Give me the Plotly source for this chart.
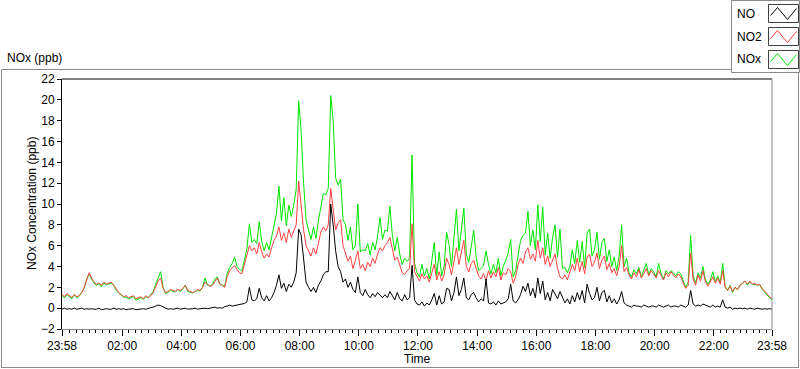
import plotly.graph_objects as go
from datetime import datetime, timedelta

# ---------------- data (5-minute samples from 23:58 to 23:58 next day) ----------------
NO2 = [
    1.3, 1.1, 1.4, 1.2, 1.0, 1.3, 1.1, 1.2, 1.5, 2.0, 2.8, 3.4,
    2.9, 2.5, 2.3, 2.4, 2.2, 2.5, 2.3, 2.4, 2.5, 2.2, 1.8, 1.5,
    1.3, 1.1, 1.2, 1.0, 1.1, 1.2, 0.9, 1.0, 1.1, 0.9, 1.2, 1.0,
    1.2, 1.5, 2.1, 2.6, 2.9, 1.9, 1.5, 1.6, 1.8, 1.7, 1.6, 1.8,
    1.7, 1.9, 2.2, 1.7, 1.6, 1.5, 1.6, 1.8, 1.7, 2.0, 2.5, 2.3,
    2.1, 2.2, 2.6, 2.9, 2.3, 2.2, 2.0, 3.0, 3.6, 3.9, 4.1, 3.7,
    3.4, 3.3, 4.3, 5.0, 6.0, 5.5, 5.8, 5.2, 6.3, 5.4, 4.8, 5.2,
    4.9, 5.8, 6.5, 6.9, 7.8, 6.5, 7.2, 6.3, 7.6, 6.8, 7.4, 8.0,
    12.2, 9.5, 7.5, 6.0, 5.5, 5.0, 5.8, 5.2, 6.2, 7.3, 7.8, 7.4,
    8.0, 11.5, 9.5, 7.5, 8.2, 8.5, 6.0, 5.2, 4.5, 5.0, 3.8, 4.6,
    5.5, 3.8, 4.2, 3.6, 4.4, 4.0, 4.8, 4.3, 5.2, 5.8, 5.5, 6.0,
    6.3, 6.8, 5.5, 4.6, 4.9, 4.2, 3.4, 3.2, 3.6, 3.8, 8.1, 3.5,
    3.0, 2.6, 3.3, 2.8, 3.1, 2.5, 3.4, 4.2, 2.7, 3.5, 2.6, 3.2,
    4.8, 4.2, 3.2, 4.5, 5.8, 4.2, 5.5, 6.5, 4.0, 3.5, 4.3, 4.6,
    3.8, 3.1, 2.8, 3.3, 2.6, 3.6, 2.9, 3.5, 3.0, 3.9, 2.7, 3.4,
    3.2, 3.8, 3.5, 2.4, 3.0, 4.2, 4.8, 4.3, 5.4, 5.8, 4.7, 5.2,
    4.5, 6.5, 4.8, 5.8, 4.2, 5.0, 4.0, 4.6, 5.2, 3.8, 3.0, 2.8,
    3.2, 2.7, 3.4, 4.2, 3.6, 4.8, 3.5, 4.5, 3.3, 4.9, 5.2, 4.0,
    4.4, 5.3, 3.8, 4.6, 5.0, 3.7, 4.3, 3.4, 3.8, 3.1, 4.0, 6.0,
    3.5, 3.9, 3.2, 2.8, 3.4, 3.0, 3.7, 2.9, 3.3, 3.8, 3.1, 3.6,
    3.3, 2.9, 3.6, 3.1, 2.7, 3.4, 3.0, 3.5, 3.2, 2.9, 3.3, 3.0,
    2.4, 1.9, 2.2, 5.3, 2.8, 2.2, 3.2, 2.6, 3.6, 2.5, 2.1, 2.6,
    3.0, 2.4, 2.9, 2.3, 3.6, 2.0, 1.7, 2.1, 1.6, 2.0, 1.8, 2.2,
    2.4, 2.6, 2.3, 2.6, 2.3, 2.4, 2.2, 2.3, 1.9, 1.6, 1.4, 1.1,
    0.9,
]

NO = [
    -0.1, 0.0, -0.1, -0.05, -0.1, 0.0, -0.1, -0.05, 0.0, -0.1, -0.05, -0.1,
    -0.05, -0.1, -0.1, 0.0, -0.15, -0.1, -0.05, -0.1, -0.1, 0.0, -0.1, -0.05,
    -0.1, -0.05, -0.15, -0.1, -0.1, -0.05, -0.15, -0.1, -0.1, -0.05, -0.1, 0.0,
    0.05, 0.1, 0.2, 0.3, 0.25, 0.1, 0.0, -0.1, -0.05, -0.1, -0.05, 0.0,
    -0.1, -0.05, 0.0, -0.1, -0.1, -0.05, 0.0, -0.1, -0.05, 0.0, 0.0, -0.05,
    0.0, 0.05, 0.1, 0.0, 0.05, 0.0, 0.15, 0.2, 0.3, 0.2, 0.25, 0.3,
    0.3, 0.35, 0.45, 0.6, 2.0, 0.8, 0.7, 0.9, 1.9, 1.0, 0.7, 1.2,
    0.7, 1.0, 1.5, 2.2, 3.2, 1.9, 2.4, 1.6, 2.3, 2.0, 2.5, 3.4,
    7.6, 7.0, 4.5, 2.5, 2.0, 1.6, 2.0, 1.5, 2.2, 2.6, 3.2, 3.5,
    3.5, 10.0, 8.0, 5.5, 4.0, 3.5, 2.5, 2.8, 2.0, 2.5, 1.8, 1.5,
    3.0, 1.5, 1.2, 1.8, 1.3, 1.0, 1.4, 1.1, 1.5, 1.2, 1.0, 1.3,
    1.0, 1.6, 1.2, 0.8, 1.5, 0.9, 0.7, 1.3, 0.8, 1.0, 4.1, 0.8,
    0.4, 0.3, 0.6, 0.2, 0.5, 0.3, 0.8, 1.4, 0.3, 1.2, 0.4, 0.6,
    1.9, 1.8, 0.7, 1.5, 3.0, 1.2, 1.8, 2.9, 1.0, 0.8, 1.3, 1.5,
    1.0, 0.6, 0.9, 0.7, 2.8, 0.5, 0.4, 0.6, 0.3, 0.7, 0.4, 0.5,
    0.6, 0.9, 2.3, 0.7, 0.5, 0.8, 1.3, 2.1, 1.6, 2.4, 1.2, 1.9,
    1.0, 2.9, 1.4, 2.6, 0.8, 1.5, 0.7, 1.8, 1.3, 0.9, 1.6, 1.1,
    0.5, 0.9, 0.4, 1.2, 0.6, 1.5, 0.8, 1.7, 0.5, 2.3, 1.4, 0.8,
    1.0, 2.0, 0.7, 1.5, 1.7, 0.6, 1.2, 0.5, 0.9, 0.4, 0.8, 1.6,
    0.5, 0.3, 0.2, 0.1, 0.3, 0.2, 0.2, 0.1, 0.3, 0.2, 0.1, 0.2,
    0.2, 0.1, 0.3, 0.2, 0.1, 0.2, 0.3, 0.1, 0.2, 0.2, 0.1, 0.3,
    0.2, 0.1, 0.3, 1.7, 0.4, 0.2, 0.3, 0.2, 0.4, 0.3, 0.2, 0.1,
    0.3, 0.1, 0.2, 0.1, 0.8, 0.1, 0.0, 0.1, -0.1, 0.0, -0.05, 0.0,
    -0.05, 0.0, -0.1, 0.0, -0.05, -0.1, 0.0, -0.05, -0.1, -0.05, -0.1, -0.05,
    -0.1,
]

NOX = [
    1.2, 1.0, 1.3, 1.1, 0.9, 1.3, 1.0, 1.15, 1.5, 1.9, 2.8, 3.3,
    2.8, 2.4, 2.2, 2.35, 2.05, 2.4, 2.25, 2.3, 2.4, 2.2, 1.7, 1.45,
    1.2, 1.05, 1.05, 0.9, 1.0, 1.15, 0.75, 0.9, 1.0, 0.85, 1.1, 1.0,
    1.25, 1.6, 2.3, 3.0, 3.5, 2.0, 1.4, 1.5, 1.7, 1.6, 1.55, 1.8,
    1.6, 1.85, 2.2, 1.6, 1.5, 1.45, 1.6, 1.7, 1.65, 2.0, 2.9, 2.2,
    2.1, 2.25, 2.8, 3.0, 2.35, 2.2, 2.1, 3.3, 3.9, 4.3, 4.9, 4.0,
    3.7, 3.6, 4.8, 5.7, 8.1, 6.3, 6.6, 6.2, 8.3, 6.4, 5.5, 6.3,
    5.6, 6.8, 8.0, 9.1, 11.7, 8.4, 10.6, 7.9, 9.9, 8.8, 9.9, 11.4,
    19.9, 17.0, 12.0, 8.5, 7.5, 6.6, 7.8, 6.7, 8.4, 9.9, 11.0, 10.9,
    11.5, 20.4, 18.0, 12.5, 11.8, 12.4, 8.5, 8.0, 6.5, 7.8, 5.6, 6.0,
    10.0, 5.4, 5.6, 5.5, 6.2, 5.1, 6.3, 5.6, 6.9, 8.7, 6.6, 7.5,
    7.4, 9.8, 7.0, 5.5, 6.8, 5.2, 4.2, 4.8, 4.5, 4.8, 14.7, 4.3,
    3.4, 3.0, 4.2, 3.1, 3.8, 2.8, 4.4, 6.3, 3.1, 5.4, 3.1, 4.0,
    7.3, 6.1, 4.0, 6.4, 9.5, 5.5, 7.4, 9.6, 5.2, 4.4, 5.9, 7.5,
    4.9, 3.6, 3.8, 4.1, 5.5, 4.2, 3.3, 4.2, 3.4, 4.8, 3.1, 4.0,
    4.6, 5.3, 6.6, 3.0, 3.6, 5.2, 6.5, 7.0, 7.2, 9.3, 6.0, 7.5,
    5.6, 9.9, 6.4, 9.7, 5.1, 7.2, 4.8, 6.8, 8.0, 4.9, 7.6, 3.8,
    3.9, 3.4, 4.0, 5.6, 4.3, 6.5, 4.4, 6.4, 3.9, 7.2, 7.6, 5.0,
    5.6, 7.3, 4.7, 6.3, 6.7, 4.5, 5.6, 4.0, 4.9, 3.6, 5.0, 8.0,
    4.0, 4.8, 3.4, 3.0, 3.7, 3.3, 3.9, 3.0, 3.6, 4.3, 3.2, 3.8,
    3.5, 3.0, 4.3, 3.3, 2.8, 3.6, 3.3, 3.6, 3.4, 3.1, 3.5, 3.3,
    2.6, 2.0, 2.5, 7.0, 3.1, 2.4, 3.4, 2.9, 4.0, 2.7, 2.3, 2.7,
    3.5, 2.5, 3.1, 2.4, 4.3, 2.1, 1.7, 2.2, 1.5, 2.0, 1.75, 2.2,
    2.35, 2.6, 2.2, 2.55, 2.25, 2.3, 2.2, 2.25, 1.8, 1.5, 1.3, 1.0,
    0.8,
]

TICK_LABELS = ["23:58", "02:00", "04:00", "06:00", "08:00", "10:00", "12:00",
               "14:00", "16:00", "18:00", "20:00", "22:00", "23:58"]
SERIES_NAMES = ["NO", "NO2", "NOx"]
SERIES_COLORS = ["#000000", "#ff4040", "#00e600"]

# ---------------- time axis ----------------
START = datetime(2024, 1, 1, 23, 58)
END = START + timedelta(hours=24)
STEP = timedelta(minutes=5)

def times_for(vals):
    return [START + STEP * i for i in range(len(vals))]

major_vals = [START] + [datetime(2024, 1, 2, h) for h in range(2, 23, 2)] + [END]
base = datetime(2024, 1, 2, 0, 0)
minor_vals = []
for k in range(-2, 120):
    t = base + timedelta(seconds=800 * k)
    if START < t < END and all(abs((t - m).total_seconds()) > 180 for m in major_vals):
        minor_vals.append(t)

# ---------------- figure ----------------
W, H = 800, 369
L, R, T, B = 62, 28, 79, 40
PW, PH = W - L - R, H - T - B

def px(x):
    return (x - L) / PW

def py(y):
    return (H - B - y) / PH

FONT = "Liberation Sans, Arial, sans-serif"

fig = go.Figure()
fig.add_trace(go.Scatter(x=times_for(NOX), y=NOX, mode="lines", name=SERIES_NAMES[2],
                         line=dict(color=SERIES_COLORS[2], width=1), showlegend=False))
fig.add_trace(go.Scatter(x=times_for(NO2), y=NO2, mode="lines", name=SERIES_NAMES[1],
                         line=dict(color=SERIES_COLORS[1], width=1), showlegend=False))
fig.add_trace(go.Scatter(x=times_for(NO), y=NO, mode="lines", name=SERIES_NAMES[0],
                         line=dict(color=SERIES_COLORS[0], width=1), showlegend=False))

shapes = []
# outer panel frame
shapes.append(dict(type="rect", xref="paper", yref="paper", x0=px(1.5), x1=px(798.5),
                   y0=py(367.5), y1=py(69.5), line=dict(color="#8a8a8a", width=1), layer="below"))
# plot frame: top black, right gray
shapes.append(dict(type="line", xref="paper", yref="paper", x0=0, x1=1, y0=1, y1=1,
                   line=dict(color="#000000", width=1)))
shapes.append(dict(type="line", xref="paper", yref="paper", x0=1, x1=1, y0=0, y1=1,
                   line=dict(color="#8a8a8a", width=1)))
# legend box
shapes.append(dict(type="rect", xref="paper", yref="paper", x0=px(731.5), x1=px(799.5),
                   y0=py(72.5), y1=py(0.5), line=dict(color="#8a8a8a", width=1),
                   fillcolor="#ffffff", layer="above"))
annotations = []
for k, (name, col) in enumerate(zip(SERIES_NAMES, SERIES_COLORS)):
    y0 = 4.5 + 23 * k
    x0 = 768.5
    shapes.append(dict(type="rect", xref="paper", yref="paper", x0=px(x0), x1=px(x0 + 30),
                       y0=py(y0 + 18), y1=py(y0), line=dict(color="#404040", width=1),
                       fillcolor="#ffffff", layer="above"))
    pts = [(2, 11), (9, 3), (19, 15), (28, 4)]
    path = "M " + " L ".join(f"{px(x0 + a):.5f},{py(y0 + b):.5f}" for a, b in pts)
    shapes.append(dict(type="path", xref="paper", yref="paper", path=path,
                       line=dict(color=col, width=1), layer="above"))
    annotations.append(dict(xref="paper", yref="paper", x=px(735), y=py(y0 + 9), text=name,
                            showarrow=False, xanchor="left", yanchor="middle",
                            font=dict(family=FONT, size=12, color="#000000")))

annotations.append(dict(xref="paper", yref="paper", x=px(5), y=py(58), text="NOx (ppb)",
                        showarrow=False, xanchor="left", yanchor="middle",
                        font=dict(family=FONT, size=12, color="#000000")))
annotations.append(dict(xref="paper", yref="paper", x=px(32), y=py(204),
                        text="NOx Concentration (ppb)", textangle=-90, showarrow=False,
                        xanchor="center", yanchor="middle",
                        font=dict(family=FONT, size=12, color="#000000")))
annotations.append(dict(xref="paper", yref="paper", x=px(417), y=py(359), text="Time",
                        showarrow=False, xanchor="center", yanchor="middle",
                        font=dict(family=FONT, size=12, color="#000000")))

fig.update_layout(
    width=W, height=H,
    margin=dict(l=L, r=R, t=T, b=B, pad=0),
    paper_bgcolor="#ffffff", plot_bgcolor="#ffffff",
    font=dict(family=FONT, size=12, color="#000000"),
    shapes=shapes, annotations=annotations,
    showlegend=False,
)
fig.update_xaxes(
    type="date", range=[START, END],
    tickmode="array", tickvals=major_vals, ticktext=TICK_LABELS,
    ticks="outside", ticklen=6, tickwidth=1, tickcolor="#000000",
    showline=True, linecolor="#8a8a8a", linewidth=1, mirror=False,
    showgrid=False, zeroline=False,
    tickfont=dict(family=FONT, size=12, color="#000000"),
    minor=dict(tickmode="array", tickvals=minor_vals, ticks="outside", ticklen=3,
               tickcolor="#000000", showgrid=False),
)
fig.update_yaxes(
    range=[-2, 22], tickmode="linear", tick0=-2, dtick=2,
    ticks="outside", ticklen=4, tickwidth=1, tickcolor="#000000",
    showline=True, linecolor="#000000", linewidth=1,
    showgrid=False, zeroline=False,
    tickfont=dict(family=FONT, size=12, color="#000000"),
)

fig.write_html(
    "out.html",
    config={"displayModeBar": False},
    post_script="document.body.style.margin='0px';document.body.style.overflow='hidden';",
)
